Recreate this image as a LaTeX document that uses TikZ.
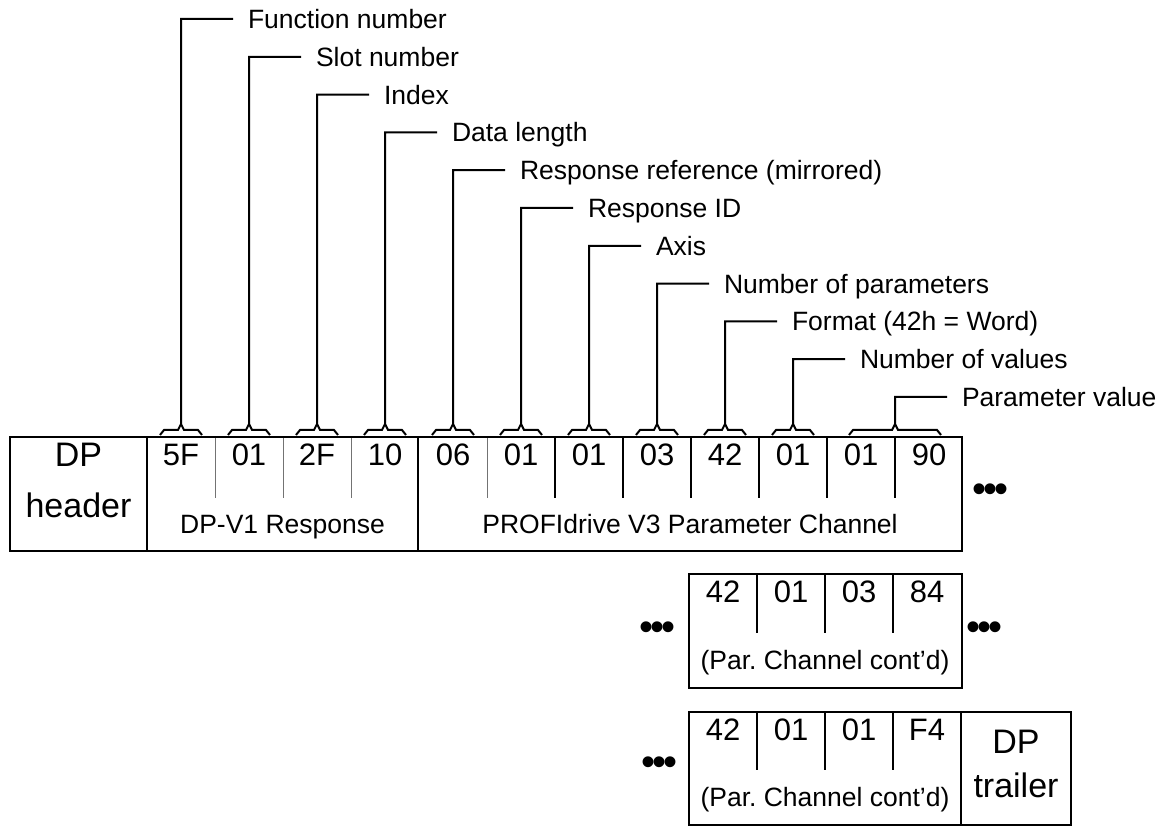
\documentclass[tikz,border=0pt]{standalone}
\usepackage{fontspec}
\setmainfont{Liberation Sans}
\usetikzlibrary{positioning,calc}

\begin{document}
\begin{tikzpicture}[
    x=1pt, y=1pt,
    node distance=0pt,
    every node/.style={inner sep=0pt, outer sep=0pt},
    cell/.style={minimum width=68pt, minimum height=36pt, text height=22pt, text depth=0pt, font={\fontsize{31}{36}\selectfont}},
    sub/.style={text height=19pt, text depth=0pt, font={\fontsize{26.5}{31}\selectfont}},
    lbl/.style={anchor=west, inner xsep=15pt, text height=19pt, text depth=0pt, font={\fontsize{26.5}{31}\selectfont}},
    big/.style={align=center, font={\fontsize{34}{51}\selectfont}},
    dots/.style={text height=26pt, text depth=0pt, font={\fontsize{40}{40}\selectfont}},
    frame/.style={line width=2.4pt},
    sep/.style={line width=1.8pt},
    thinsep/.style={line width=1pt, draw=black!55},
    lead/.style={line width=2pt},
    tab/.style n args={3}{insert path={
      ($(#1.north west)!.5!(#2.north east)+(-#3,2pt)$) -- ++(4pt,5pt) -- ++(#3-7pt,0pt)
      -- ++(3pt,6pt) -- ++(3pt,-6pt) -- ++(#3-7pt,0pt) -- ++(4pt,-5pt)}}
  ]
    \useasboundingbox (0,0) rectangle (1172,826);

    % main telegram
    \node[cell] (f1) at (181,371) {5F};
    \node[cell, right=of f1] (f2) {01};
    \node[cell, right=of f2] (f3) {2F};
    \node[cell, right=of f3] (f4) {10};
    \node[cell, right=of f4] (f5) {06};
    \node[cell, right=of f5] (f6) {01};
    \node[cell, right=of f6] (f7) {01};
    \node[cell, right=of f7] (f8) {03};
    \node[cell, right=of f8] (f9) {42};
    \node[cell, right=of f9] (f10) {01};
    \node[cell, right=of f10] (f11) {01};
    \node[cell, right=of f11] (f12) {90};
    \node[big] (hdr) at (78.5,345.5) {DP\\header};
    \node[sub] (v1) at (282.5,301.5) {DP-V1 Response};
    \node[sub] (pc) at (690,301.5) {PROFIdrive V3 Parameter Channel};
    \node[dots] (d1) at (990,336) {•\kern-3pt•\kern-3pt•};

    \draw[thinsep] (f1.north east) -- ++(0,-61);
    \draw[thinsep] (f2.north east) -- ++(0,-61);
    \draw[thinsep] (f3.north east) -- ++(0,-61);
    \draw[thinsep] (f5.north east) -- ++(0,-61);
    \draw[sep] (f6.north east) -- ++(0,-61);
    \draw[sep] (f7.north east) -- ++(0,-61);
    \draw[sep] (f8.north east) -- ++(0,-61);
    \draw[sep] (f9.north east) -- ++(0,-61);
    \draw[sep] (f10.north east) -- ++(0,-61);
    \draw[sep] (f11.north east) -- ++(0,-61);
    \draw[frame] (10,275) rectangle (962,389);
    \draw[frame] (147,275) -- (147,389);
    \draw[frame] (418,275) -- (418,389);

    % continued parameter channel
    \node[cell] (g1) at (723,234) {42};
    \node[cell, right=of g1] (g2) {01};
    \node[cell, right=of g2] (g3) {03};
    \node[cell, right=of g3] (g4) {84};
    \node[sub] (pc2) at (825,165.5) {(Par.\ Channel cont'd)};
    \node[dots] (d2) at (657,198) {•\kern-3pt•\kern-3pt•};
    \node[dots] (d3) at (984,198) {•\kern-3pt•\kern-3pt•};
    \draw[sep] (g1.north east) -- ++(0,-59);
    \draw[sep] (g2.north east) -- ++(0,-59);
    \draw[sep] (g3.north east) -- ++(0,-59);
    \draw[frame] (689,138) rectangle (962,252);

    % last part with trailer
    \node[cell] (h1) at (723,96) {42};
    \node[cell, right=of h1] (h2) {01};
    \node[cell, right=of h2] (h3) {01};
    \node[cell, right=of h3] (h4) {F4};
    \node[sub] (pc3) at (825,28.5) {(Par.\ Channel cont'd)};
    \node[big, font={\fontsize{34}{44}\selectfont}] (trl) at (1016,62) {DP\\trailer};
    \node[dots] (d4) at (659,63) {•\kern-3pt•\kern-3pt•};
    \draw[sep] (h1.north east) -- ++(0,-58);
    \draw[sep] (h2.north east) -- ++(0,-58);
    \draw[sep] (h3.north east) -- ++(0,-58);
    \draw[frame] (689,1) rectangle (1071,114);
    \draw[frame] (961,1) -- (961,114);

    % field labels
    \node[lbl] (t1) at (233,807) {Function number};
    \node[lbl] (t2) at (301,769.2) {Slot number};
    \node[lbl] (t3) at (369,731.4) {Index};
    \node[lbl] (t4) at (437,693.6) {Data length};
    \node[lbl] (t5) at (505,655.8) {Response reference (mirrored)};
    \node[lbl] (t6) at (573,618) {Response ID};
    \node[lbl] (t7) at (641,580.2) {Axis};
    \node[lbl] (t8) at (709,542.4) {Number of parameters};
    \node[lbl] (t9) at (777,504.6) {Format (42h = Word)};
    \node[lbl] (t10) at (845,466.8) {Number of values};
    \node[lbl] (t11) at (947,429) {Parameter value};

    \draw[lead, tab={f1}{f1}{21pt}] ([yshift=13pt]f1.north) |- (t1.west);
    \draw[lead, tab={f2}{f2}{21pt}] ([yshift=13pt]f2.north) |- (t2.west);
    \draw[lead, tab={f3}{f3}{21pt}] ([yshift=13pt]f3.north) |- (t3.west);
    \draw[lead, tab={f4}{f4}{21pt}] ([yshift=13pt]f4.north) |- (t4.west);
    \draw[lead, tab={f5}{f5}{21pt}] ([yshift=13pt]f5.north) |- (t5.west);
    \draw[lead, tab={f6}{f6}{21pt}] ([yshift=13pt]f6.north) |- (t6.west);
    \draw[lead, tab={f7}{f7}{21pt}] ([yshift=13pt]f7.north) |- (t7.west);
    \draw[lead, tab={f8}{f8}{21pt}] ([yshift=13pt]f8.north) |- (t8.west);
    \draw[lead, tab={f9}{f9}{21pt}] ([yshift=13pt]f9.north) |- (t9.west);
    \draw[lead, tab={f10}{f10}{21pt}] ([yshift=13pt]f10.north) |- (t10.west);
    \draw[lead, tab={f11}{f12}{46pt}] ([yshift=13pt]f11.north east) |- (t11.west);
  \end{tikzpicture}
\end{document}
